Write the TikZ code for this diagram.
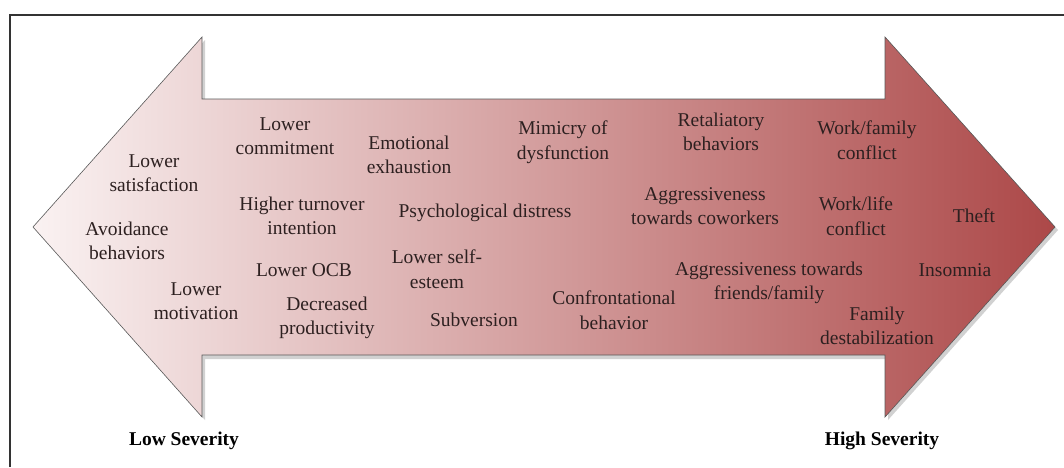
\documentclass[tikz,border=0pt]{standalone}
\usepackage{fontspec}
\setmainfont{Liberation Serif}
\definecolor{lowend}{RGB}{250,242,242}
\definecolor{highend}{RGB}{172,72,72}
\definecolor{txt}{RGB}{45,32,32}
\begin{document}
\begin{tikzpicture}[x=1pt,y=-1pt,
  lbl/.style={font=\fontsize{19.5}{24.5}\selectfont, text=txt, align=center, inner sep=0pt},
  sev/.style={font=\fontsize{19.5}{22}\selectfont\bfseries, text=black, inner sep=0pt}]
\useasboundingbox (0,0) rectangle (1064,467);
% frame: top and left rules only
\draw[line width=1.3pt, black!80] (10,467) -- (10,15) -- (1064,15);
% double-headed arrow
\coordinate (lt) at (33,227);
\coordinate (rt) at (1055,227);
\fill[black, opacity=0.18] ([shift={(3,3)}]lt) -- (205,40) -- (205,102) -- (888,102) -- (888,40)
  -- ([shift={(3,3)}]rt) -- (888,420) -- (888,359) -- (205,359) -- (205,420) -- cycle;
\path[left color=lowend, right color=highend, draw=black!65, line width=0.6pt]
  (lt) -- (202,37) -- (202,99) -- (885,99) -- (885,37) -- (rt)
  -- (885,417) -- (885,355) -- (202,355) -- (202,417) -- cycle;
% effects
\node[lbl] (n1)  at (154,173) {Lower\\satisfaction};
\node[lbl] (n2)  at (127,241) {Avoidance\\behaviors};
\node[lbl] (n3)  at (196,301) {Lower\\motivation};
\node[lbl] (n4)  at (285,136) {Lower\\commitment};
\node[lbl] (n5)  at (302,216) {Higher turnover\\intention};
\node[lbl] (n6)  at (304,270) {Lower OCB};
\node[lbl] (n7)  at (327,318) {Decreased\\productivity};
\node[lbl] (n8)  at (409,155) {Emotional\\exhaustion};
\node[lbl] (n9)  at (485,213) {Psychological distress};
\node[lbl] (n10) at (437,269) {Lower self-\\esteem};
\node[lbl] (n11) at (474,320) {Subversion};
\node[lbl] (n12) at (563,142) {Mimicry of\\dysfunction};
\node[lbl] (n13) at (721,132) {Retaliatory\\behaviors};
\node[lbl] (n14) at (705,206) {Aggressiveness\\towards coworkers};
\node[lbl] (n15) at (614,310) {Confrontational\\behavior};
\node[lbl] (n16) at (769,283) {Aggressiveness towards\\friends/family};
\node[lbl] (n17) at (867,140) {Work/family\\conflict};
\node[lbl] (n18) at (856,216) {Work/life\\conflict};
\node[lbl] (n19) at (974,216) {Theft};
\node[lbl] (n20) at (955,270) {Insomnia};
\node[lbl] (n21) at (877,326) {Family\\destabilization};
% scale ends
\node[sev] (low)  at (184,441) {Low Severity};
\node[sev] (high) at (882,441) {High Severity};
\end{tikzpicture}
\end{document}
